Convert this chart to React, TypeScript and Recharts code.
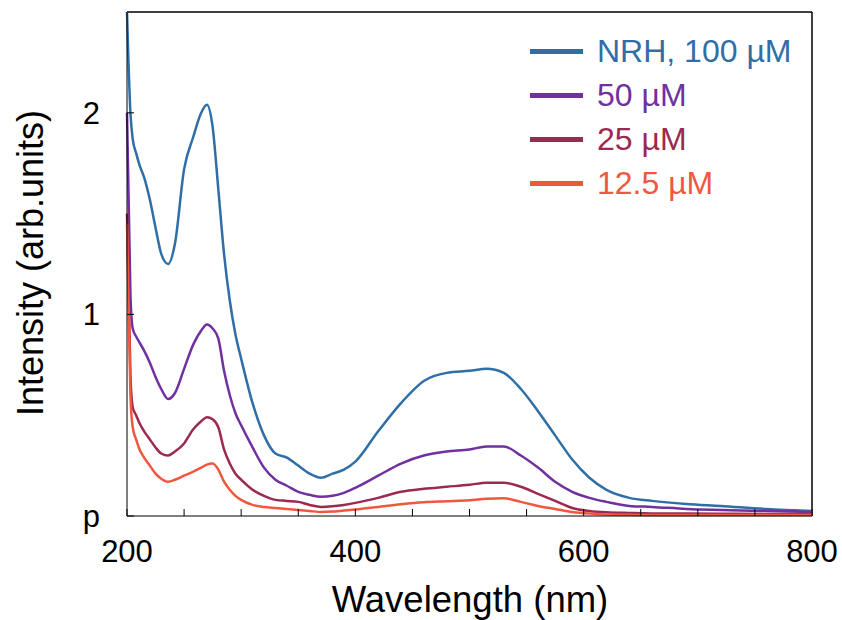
import React from 'react';
import {
  LineChart, Line, XAxis, YAxis, ReferenceLine,
} from 'recharts';

// wavelength (nm) sampled for every spectrum
const wavelengths = [
  200, 203, 205, 208, 211, 215, 220, 225, 230, 236, 242, 250, 258, 265, 270, 275,
  280, 285, 290, 295, 300, 310, 320, 330, 340, 350, 360, 370, 380, 390, 400, 420,
  440, 460, 480, 500, 515, 530, 545, 560, 575, 590, 605, 620, 640, 660, 690, 720,
  760, 800,
];

const nrh100 = [
  2.5, 2.0, 1.87, 1.8, 1.74, 1.68, 1.57, 1.43, 1.3, 1.25, 1.35, 1.72, 1.88, 2.0, 2.04, 1.93,
  1.62, 1.3, 1.07, 0.9, 0.78, 0.56, 0.4, 0.31, 0.29, 0.25, 0.21, 0.19, 0.21, 0.23, 0.27, 0.42,
  0.56, 0.67, 0.71, 0.72, 0.73, 0.71, 0.63, 0.52, 0.4, 0.28, 0.19, 0.13, 0.09, 0.075, 0.06, 0.05,
  0.035, 0.025,
];

const nrh50 = [
  2.0, 1.1, 0.93, 0.89, 0.86, 0.82, 0.76, 0.69, 0.63, 0.58, 0.61, 0.73, 0.85, 0.92, 0.95, 0.93,
  0.88, 0.72, 0.6, 0.51, 0.45, 0.34, 0.24, 0.18, 0.15, 0.12, 0.105, 0.095, 0.1, 0.115, 0.14, 0.2,
  0.26, 0.3, 0.32, 0.33, 0.345, 0.345, 0.3, 0.24, 0.17, 0.12, 0.09, 0.07, 0.05, 0.045, 0.035, 0.03,
  0.025, 0.02,
];

const nrh25 = [
  1.5, 0.7, 0.54, 0.5, 0.46, 0.42, 0.38, 0.34, 0.31, 0.3, 0.32, 0.36, 0.43, 0.47, 0.49, 0.48,
  0.44, 0.33, 0.26, 0.21, 0.18, 0.13, 0.1, 0.08, 0.075, 0.07, 0.055, 0.045, 0.048, 0.055, 0.065, 0.09,
  0.12, 0.135, 0.145, 0.155, 0.165, 0.165, 0.145, 0.11, 0.075, 0.04, 0.025, 0.018, 0.015, 0.013, 0.012, 0.011,
  0.01, 0.01,
];

const nrh12 = [
  1.45, 0.6, 0.44, 0.38, 0.33, 0.29, 0.25, 0.21, 0.185, 0.17, 0.18, 0.2, 0.22, 0.24, 0.255, 0.26,
  0.23, 0.17, 0.13, 0.1, 0.08, 0.055, 0.045, 0.04, 0.035, 0.03, 0.025, 0.02, 0.022, 0.027, 0.032, 0.045,
  0.058, 0.068, 0.073, 0.078, 0.085, 0.088, 0.07, 0.05, 0.035, 0.02, 0.012, 0.008, 0.006, 0.005, 0.005, 0.005,
  0.005, 0.005,
];

const xTicks = [200, 250, 300, 350, 400, 450, 500, 550, 600, 650, 700, 750, 800];
const xLabels = [200, 400, 600, 800];
const yTicks = [0, 1, 2];

const series = [
  { key: 'c100', name: 'NRH, 100 µM', values: nrh100, color: '#2f6ea6' },
  { key: 'c50', name: '50 µM', values: nrh50, color: '#7030a0' },
  { key: 'c25', name: '25 µM', values: nrh25, color: '#9c2a4e' },
  { key: 'c12', name: '12.5 µM', values: nrh12, color: '#f0573f' },
];

const data = wavelengths.map((wl, i) => {
  const row: Record<string, number> = { wl };
  series.forEach((s) => { row[s.key] = s.values[i]; });
  return row;
});

const font = 'Liberation Sans, Arial, sans-serif';

function LegendBox() {
  return (
    <div style={{ position: 'absolute', left: 530, top: 29, fontFamily: font }}>
      {series.map((s) => (
        <div key={s.key} style={{ display: 'flex', alignItems: 'center', height: 44 }}>
          <div style={{ width: 53, height: 5, background: s.color, marginRight: 14 }} />
          <span style={{ color: s.color, fontSize: 32, lineHeight: '44px' }}>{s.name}</span>
        </div>
      ))}
    </div>
  );
}

export default function App() {
  return (
    <div style={{ position: 'absolute', left: 0, top: 0, width: 842, height: 620, background: '#fff' }}>
      <LineChart
        width={842}
        height={620}
        data={data}
        margin={{ top: 12, right: 30, left: 67, bottom: 0 }}
      >
        <XAxis
          dataKey="wl"
          type="number"
          domain={[200, 800]}
          ticks={xTicks}
          interval={0}
          height={104}
          tickSize={-7}
          tickMargin={31}
          tickFormatter={(v: number) => (xLabels.includes(v) ? String(v) : '')}
          stroke="#000"
          tick={{ fill: '#000', fontSize: 31, fontFamily: font }}
          label={{
            content: () => (
              <text x={470} y={612} textAnchor="middle" fill="#000" fontSize={36.5} fontFamily={font}>
                Wavelength (nm)
              </text>
            ),
          }}
        />
        <YAxis
          type="number"
          domain={[0, 2.5]}
          ticks={yTicks}
          width={60}
          tickSize={-7}
          tickMargin={34}
          tickFormatter={(v: number) => (v === 0 ? 'p' : String(v))}
          stroke="#000"
          tick={{ fill: '#000', fontSize: 31, fontFamily: font }}
          label={{
            content: () => (
              <text
                x={43}
                y={263}
                transform="rotate(-90, 43, 263)"
                textAnchor="middle"
                fill="#000"
                fontSize={36}
                fontFamily={font}
              >
                Intensity (arb.units)
              </text>
            ),
          }}
        />
        <ReferenceLine y={2.5} stroke="#000" strokeWidth={1.5} />
        <ReferenceLine x={800} stroke="#000" strokeWidth={1.5} />
        {series.map((s) => (
          <Line
            key={s.key}
            dataKey={s.key}
            name={s.name}
            type="monotone"
            stroke={s.color}
            strokeWidth={2.5}
            dot={false}
            isAnimationActive={false}
          />
        ))}
      </LineChart>
      <LegendBox />
    </div>
  );
}
